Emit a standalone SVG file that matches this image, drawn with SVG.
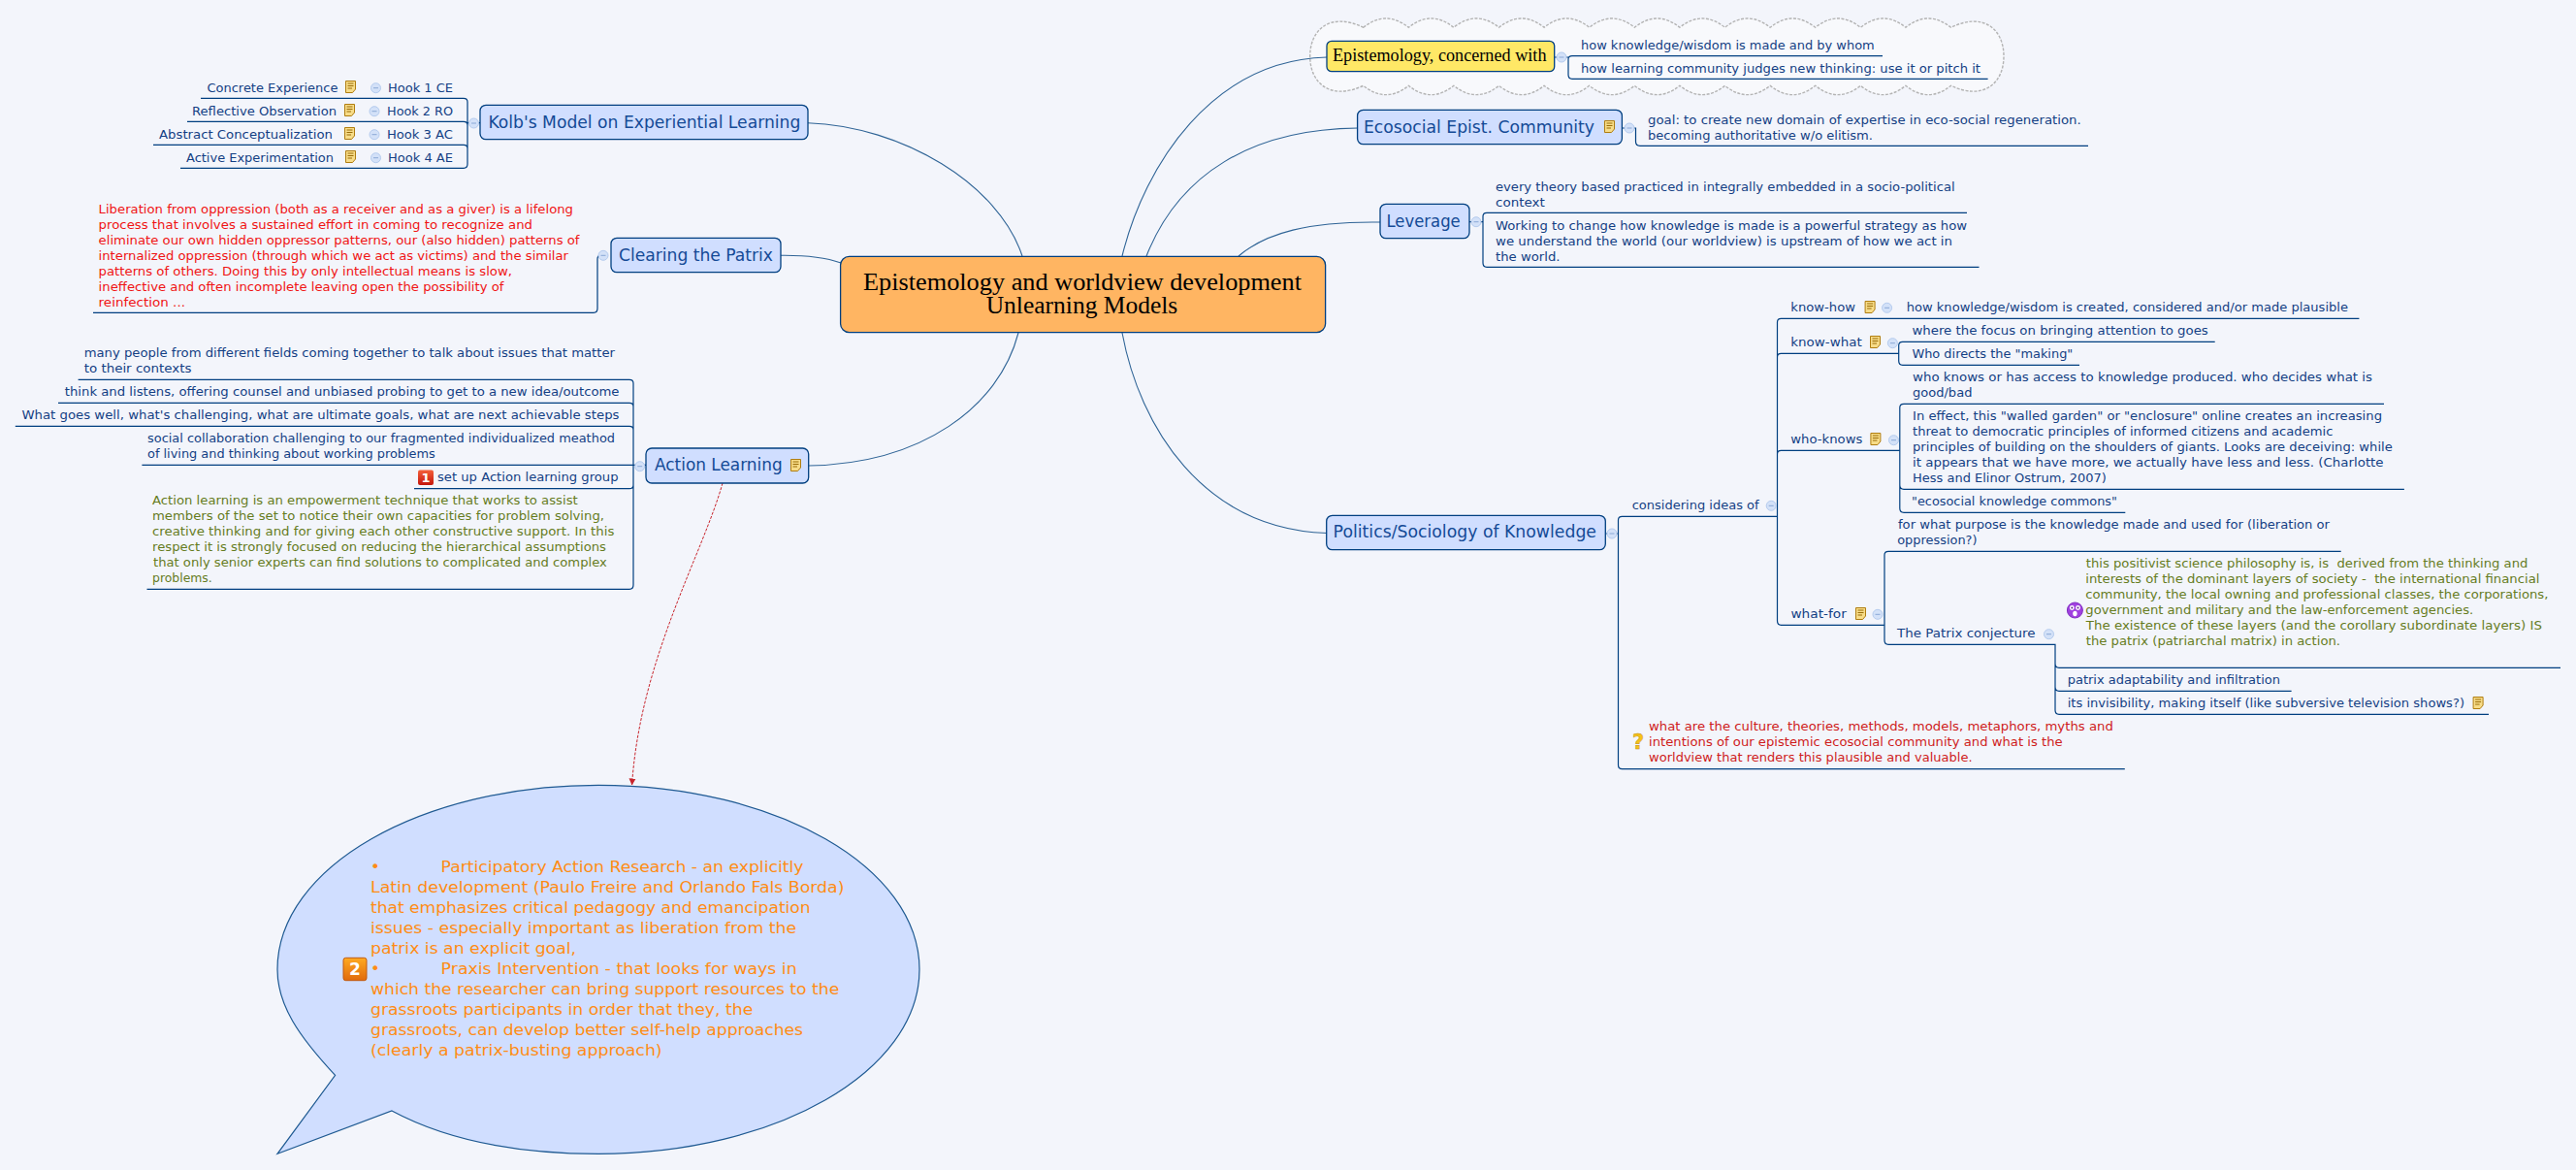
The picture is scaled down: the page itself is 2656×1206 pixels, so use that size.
<svg xmlns="http://www.w3.org/2000/svg" width="2656" height="1206" viewBox="0 0 2656 1206">
<style>
text{font-family:"DejaVu Sans","Liberation Sans",sans-serif;font-size:12.5px;fill:#143f84}
.red{fill:#f01414}
.dred{fill:#cf1c1c}
.ol{fill:#667c1e}
.org{fill:#ff8c14;font-size:16.5px}
.big{font-size:17px;fill:#144a96}
.ser{font-family:"Liberation Serif","DejaVu Serif",serif;fill:#000}
.topic{fill:#d0deff;stroke:#003f80;stroke-width:1.3}
.tree{fill:none;stroke:#003f80;stroke-width:1.2}
.curve{fill:none;stroke:#2f6496;stroke-width:1.1}
</style>
<defs>
<symbol id="note" viewBox="0 0 11 13" overflow="visible"><path d="M.5.5H10.5V9L7.5 12.5H.5Z" fill="#f7dc88" stroke="#b07d10" stroke-width="1"/><path d="M2.5 3H8.5M2.5 5.5H8.5M2.5 8H7" stroke="#9a6c08" stroke-width="1" fill="none"/></symbol>
<g id="col"><circle r="5" fill="#d3e1f8" stroke="#b4cbee" stroke-width="1"/><path d="M-2.5 0H2.5" stroke="#8aa8d6" stroke-width="1"/></g>
<linearGradient id="gr" x1="0" y1="0" x2="0" y2="1"><stop offset="0" stop-color="#f4603a"/><stop offset="1" stop-color="#c4160c"/></linearGradient>
<linearGradient id="go" x1="0" y1="0" x2="0" y2="1"><stop offset="0" stop-color="#ffaa22"/><stop offset="1" stop-color="#e06a0c"/></linearGradient>
<marker id="arr" markerWidth="7" markerHeight="8" refX="6.5" refY="4" orient="auto" markerUnits="userSpaceOnUse"><path d="M0 .5L7 4L0 7.5Z" fill="#c8242c"/></marker>
</defs>
<rect width="2656" height="1206" fill="#f3f5fb"/>
<path id="cloud" d="M1405.7,28.3Q1429,9.7 1452.3,28.3Q1475.6,9.7 1498.9,28.3Q1522.2,9.7 1545.5,28.3Q1568.8,9.7 1592.1,28.3Q1615.4,9.7 1638.7,28.3Q1662,9.7 1685.3,28.3Q1708.6,9.7 1731.9,28.3Q1755.2,9.7 1778.5,28.3Q1801.8,9.7 1825.1,28.3Q1848.4,9.7 1871.7,28.3Q1895,9.7 1918.3,28.3Q1941.6,9.7 1964.9,28.3Q1988.2,9.7 2011.5,28.3C2045,12 2066,30 2066,58C2066,86 2045,104 2011.5,88.3Q1988.2,107 1964.9,88.3Q1941.6,107 1918.3,88.3Q1895,107 1871.7,88.3Q1848.4,107 1825.1,88.3Q1801.8,107 1778.5,88.3Q1755.2,107 1731.9,88.3Q1708.6,107 1685.3,88.3Q1662,107 1638.7,88.3Q1615.4,107 1592.1,88.3Q1568.8,107 1545.5,88.3Q1522.2,107 1498.9,88.3Q1475.6,107 1452.3,88.3Q1429,107 1405.7,88.3C1372,104 1350.7,86 1350.7,58C1350.7,30 1372,12 1405.7,28.3Z" fill="#f8f9fc" stroke="#b4b4b4" stroke-width="1.4" stroke-dasharray="3 1.5"/>
<g id="connectors">
<path class="curve" d="M833,126.7C930,130 1030,190 1054,264"/>
<path class="curve" d="M805,263.3C830,263 850,265 867,271"/>
<path class="curve" d="M1050,343C1030,420 950,478 834,480"/>
<path class="curve" d="M1157,264C1180,170 1250,62 1368,59"/>
<path class="curve" d="M1182,264C1215,180 1290,133 1400,132"/>
<path class="curve" d="M1277,264C1305,240 1350,228 1423,229"/>
<path class="curve" d="M1157,343C1175,440 1240,545 1368,549.5"/>
<path d="M745,498C725,570 660,680 651.6,809" fill="none" stroke="#c8242c" stroke-width="1" stroke-dasharray="3 1.5" marker-end="url(#arr)"/>
<path class="tree" d="M207,101.3H478Q482,101.3 482,105V169.3Q482,173.3 478,173.3H186M193,125.3H478Q482,125.3 482,129M158,149.3H478Q482,149.3 482,153M482,126.7H495"/>
<path class="tree" d="M96,322.3H612Q616,322.3 616,318V267Q616,263.3 619,263.3"/>
<path class="tree" d="M80.6,391.3H649Q653,391.3 653,395V603Q653,607.3 649,607.3H151.5M60,415.3H649Q653,415.3 653,419M15.8,439.3H649Q653,439.3 653,443M146.4,479.3H666M427,503.7H649Q653,503.7 653,500"/>
<path class="tree" d="M1941,57.7H1621Q1617,57.7 1617,61V77Q1617,81.3 1621,81.3H2049.6M1603,59H1617"/>
<path class="tree" d="M1673,132H1686.5V146Q1686.5,150.3 1691,150.3H2153"/>
<path class="tree" d="M2028,219.3H1533Q1529,219.3 1529,223V271Q1529,275.3 1533,275.3H2040.5M1515,228.7H1529"/>
<path class="tree" d="M1656,550H1668.5M1832.5,532.3H1672.5Q1668.5,532.3 1668.5,536V788.5Q1668.5,792.7 1672.5,792.7H2190.8"/>
<path class="tree" d="M2432.4,328.3H1836.5Q1832.5,328.3 1832.5,332V640Q1832.5,644.3 1836.5,644.3H1942.9M1957.7,364.3H1836.5Q1832.5,364.3 1832.5,368M1958.8,464.3H1836.5Q1832.5,464.3 1832.5,468"/>
<path class="tree" d="M2283.7,352.3H1961.7Q1957.7,352.3 1957.7,356V372Q1957.7,376.3 1961.7,376.3H2144"/>
<path class="tree" d="M2458,416.3H1963Q1958.8,416.3 1958.8,420V524Q1958.8,528.3 1963,528.3H2191.3M1958.8,500Q1958.8,504.3 1963,504.3H2478.9"/>
<path class="tree" d="M2413.7,568.3H1947Q1943,568.3 1943,572V660Q1943,664.3 1947,664.3H2119V732Q2119,736.3 2123,736.3H2566M2119,684Q2119,688.3 2123,688.3H2640M2119,708Q2119,712.3 2123,712.3H2362.6"/>
<use href="#col" x="488.5" y="127"/><use href="#col" x="622" y="263.3"/><use href="#col" x="659.7" y="480.7"/>
<use href="#col" x="387.5" y="90.7"/><use href="#col" x="386" y="114.7"/><use href="#col" x="386" y="138.7"/><use href="#col" x="387.5" y="162.7"/>
<use href="#col" x="1610" y="59"/><use href="#col" x="1680" y="132"/><use href="#col" x="1522" y="228.7"/><use href="#col" x="1662" y="550"/>
<use href="#col" x="1826.2" y="521.3"/><use href="#col" x="1945.6" y="317.3"/><use href="#col" x="1951.4" y="353.7"/><use href="#col" x="1952.5" y="453.7"/><use href="#col" x="1936" y="633.3"/><use href="#col" x="2112.5" y="653.7"/>
</g>
<g id="node-center"><rect x="866.6" y="264.3" width="500" height="78.4" rx="9" fill="#ffb562" stroke="#003f80" stroke-width="1.3"/>
<text class="ser" x="890" y="299" style="font-size:25px" textLength="452" lengthAdjust="spacingAndGlyphs">Epistemology and worldview development</text>
<text class="ser" x="1016.7" y="322.7" style="font-size:25px" textLength="197.6" lengthAdjust="spacingAndGlyphs">Unlearning Models</text></g>
<g id="node-kolb"><rect class="topic" x="495" y="108.3" width="338" height="35.4" rx="6"/>
<text class="big" x="503.4" y="132" textLength="322" lengthAdjust="spacingAndGlyphs">Kolb's Model on Experiential Learning</text></g>
<g id="node-kolb-1"><text x="213.5" y="95" textLength="134.9" lengthAdjust="spacingAndGlyphs">Concrete Experience</text><use href="#note" x="356" y="83" width="11" height="13"/><text x="400" y="95" textLength="67" lengthAdjust="spacingAndGlyphs">Hook 1 CE</text></g>
<g id="node-kolb-2"><text x="198" y="119" textLength="149" lengthAdjust="spacingAndGlyphs">Reflective Observation</text><use href="#note" x="355" y="107" width="11" height="13"/><text x="399" y="119" textLength="68" lengthAdjust="spacingAndGlyphs">Hook 2 RO</text></g>
<g id="node-kolb-3"><text x="164" y="143" textLength="179" lengthAdjust="spacingAndGlyphs">Abstract Conceptualization</text><use href="#note" x="355" y="131" width="11" height="13"/><text x="399" y="143" textLength="68" lengthAdjust="spacingAndGlyphs">Hook 3 AC</text></g>
<g id="node-kolb-4"><text x="192" y="167" textLength="152" lengthAdjust="spacingAndGlyphs">Active Experimentation</text><use href="#note" x="356" y="155" width="11" height="13"/><text x="400" y="167" textLength="67" lengthAdjust="spacingAndGlyphs">Hook 4 AE</text></g>
<g id="node-clearing"><rect class="topic" x="630" y="245.3" width="175" height="35.4" rx="6"/>
<text class="big" x="638" y="269" textLength="159" lengthAdjust="spacingAndGlyphs">Clearing the Patrix</text></g>
<g id="node-clearing-1">
<text class="red" x="101.6" y="220" textLength="489.4" lengthAdjust="spacingAndGlyphs">Liberation from oppression (both as a receiver and as a giver) is a lifelong</text>
<text class="red" x="101.6" y="236" textLength="447.4" lengthAdjust="spacingAndGlyphs">process that involves a sustained effort in coming to recognize and</text>
<text class="red" x="101.6" y="252" textLength="495.9" lengthAdjust="spacingAndGlyphs">eliminate our own hidden oppressor patterns, our (also hidden) patterns of</text>
<text class="red" x="101.6" y="268" textLength="484.4" lengthAdjust="spacingAndGlyphs">internalized oppression (through which we act as victims) and the similar</text>
<text class="red" x="101.6" y="284" textLength="426.4" lengthAdjust="spacingAndGlyphs">patterns of others. Doing this by only intellectual means is slow,</text>
<text class="red" x="101.6" y="300" textLength="417.9" lengthAdjust="spacingAndGlyphs">ineffective and often incomplete leaving open the possibility of</text>
<text class="red" x="101.6" y="316" textLength="89.4" lengthAdjust="spacingAndGlyphs">reinfection ...</text></g>
<g id="node-action"><rect class="topic" x="666" y="462" width="167.7" height="36" rx="6"/>
<text class="big" x="675" y="485.3" textLength="131.7" lengthAdjust="spacingAndGlyphs">Action Learning</text><use href="#note" x="815" y="473" width="11" height="13"/></g>
<g id="node-action-1"><text x="86.7" y="368" textLength="547.3" lengthAdjust="spacingAndGlyphs">many people from different fields coming together to talk about issues that matter</text><text x="86.7" y="384" textLength="110.7" lengthAdjust="spacingAndGlyphs">to their contexts</text></g>
<g id="node-action-2"><text x="66.8" y="408" textLength="571.7" lengthAdjust="spacingAndGlyphs">think and listens, offering counsel and unbiased probing to get to a new idea/outcome</text></g>
<g id="node-action-3"><text x="22.4" y="432" textLength="616.1" lengthAdjust="spacingAndGlyphs">What goes well, what's challenging, what are ultimate goals, what are next achievable steps</text></g>
<g id="node-action-4"><text x="152" y="456" textLength="482" lengthAdjust="spacingAndGlyphs">social collaboration challenging to our fragmented individualized meathod</text><text x="152" y="472" textLength="296.8" lengthAdjust="spacingAndGlyphs">of living and thinking about working problems</text></g>
<g id="node-action-5"><rect x="431" y="484.5" width="16" height="15.5" rx="2" fill="url(#gr)"/><text x="439" y="497" text-anchor="middle" style="fill:#fff;font-weight:bold;font-size:13px">1</text><text x="451" y="496" textLength="186.5" lengthAdjust="spacingAndGlyphs">set up Action learning group</text></g>
<g id="node-action-6">
<text class="ol" x="157" y="520" textLength="438.7" lengthAdjust="spacingAndGlyphs">Action learning is an empowerment technique that works to assist</text>
<text class="ol" x="157" y="536" textLength="466" lengthAdjust="spacingAndGlyphs">members of the set to notice their own capacities for problem solving,</text>
<text class="ol" x="157" y="552" textLength="476.4" lengthAdjust="spacingAndGlyphs">creative thinking and for giving each other constructive support. In this</text>
<text class="ol" x="157" y="568" textLength="468" lengthAdjust="spacingAndGlyphs">respect it is strongly focused on reducing the hierarchical assumptions</text>
<text class="ol" x="158" y="584" textLength="467.8" lengthAdjust="spacingAndGlyphs">that only senior experts can find solutions to complicated and complex</text>
<text class="ol" x="157" y="600" textLength="61.8" lengthAdjust="spacingAndGlyphs">problems.</text></g>
<g id="node-callout"><path d="M345.6,1108.3C308,1068 286,1036 286,999.3C286,894 434,809.3 617,809.3C800,809.3 948,894 948,999.3C948,1104.5 800,1189.3 617,1189.3C530,1189.3 460,1175 404,1145L286,1189.3Z" fill="#d0deff" stroke="#1f5a92" stroke-width="1.2"/>
<rect x="354" y="987.3" width="24" height="23.4" rx="2.5" fill="url(#go)" stroke="#c05a10"/><text x="366" y="1005" text-anchor="middle" style="fill:#fff;font-weight:bold;font-size:17px">2</text>
<text class="org" x="382" y="899.3">•</text><text class="org" x="454.6" y="899.3" textLength="373.8" lengthAdjust="spacingAndGlyphs">Participatory Action Research - an explicitly</text>
<text class="org" x="382" y="920.3" textLength="488.4" lengthAdjust="spacingAndGlyphs">Latin development (Paulo Freire and Orlando Fals Borda)</text>
<text class="org" x="382" y="941.3" textLength="453.6" lengthAdjust="spacingAndGlyphs">that emphasizes critical pedagogy and emancipation</text>
<text class="org" x="382" y="962.3" textLength="439" lengthAdjust="spacingAndGlyphs">issues - especially important as liberation from the</text>
<text class="org" x="382" y="983.3" textLength="212" lengthAdjust="spacingAndGlyphs">patrix is an explicit goal,</text>
<text class="org" x="382" y="1004.3">•</text><text class="org" x="454.6" y="1004.3" textLength="367.1" lengthAdjust="spacingAndGlyphs">Praxis Intervention - that looks for ways in</text>
<text class="org" x="382" y="1025.3" textLength="483.2" lengthAdjust="spacingAndGlyphs">which the researcher can bring support resources to the</text>
<text class="org" x="382" y="1046.3" textLength="394.3" lengthAdjust="spacingAndGlyphs">grassroots participants in order that they, the</text>
<text class="org" x="382" y="1067.3" textLength="446" lengthAdjust="spacingAndGlyphs">grassroots, can develop better self-help approaches</text>
<text class="org" x="382" y="1088.3" textLength="300.6" lengthAdjust="spacingAndGlyphs">(clearly a patrix-busting approach)</text></g>
<g id="node-epistemology"><rect x="1368" y="42.3" width="234.7" height="31.4" rx="5" fill="#ffe866" stroke="#003f80" stroke-width="1.3"/>
<text class="ser" x="1374" y="63" style="font-size:18px" textLength="220.5" lengthAdjust="spacingAndGlyphs">Epistemology, concerned with</text></g>
<g id="node-epi-1"><text x="1630" y="50.7" textLength="302.7" lengthAdjust="spacingAndGlyphs">how knowledge/wisdom is made and by whom</text></g>
<g id="node-epi-2"><text x="1630" y="74.7" textLength="412" lengthAdjust="spacingAndGlyphs">how learning community judges new thinking: use it or pitch it</text></g>
<g id="node-ecosocial"><rect class="topic" x="1399.6" y="113.3" width="272.8" height="35.4" rx="6"/>
<text class="big" x="1406" y="136.7" textLength="238" lengthAdjust="spacingAndGlyphs">Ecosocial Epist. Community</text><use href="#note" x="1654" y="124" width="11" height="13"/></g>
<g id="node-eco-1"><text x="1699" y="127.7" textLength="446.7" lengthAdjust="spacingAndGlyphs">goal: to create new domain of expertise in eco-social regeneration.</text><text x="1699" y="143.7" textLength="232" lengthAdjust="spacingAndGlyphs">becoming authoritative w/o elitism.</text></g>
<g id="node-leverage"><rect class="topic" x="1423" y="210.3" width="92" height="35.4" rx="6"/>
<text class="big" x="1429.5" y="233.7" textLength="76.2" lengthAdjust="spacingAndGlyphs">Leverage</text></g>
<g id="node-lev-1"><text x="1542" y="196.7" textLength="473.6" lengthAdjust="spacingAndGlyphs">every theory based practiced in integrally embedded in a socio-political</text><text x="1542" y="212.7" textLength="50.8" lengthAdjust="spacingAndGlyphs">context</text></g>
<g id="node-lev-2"><text x="1542" y="236.7" textLength="486" lengthAdjust="spacingAndGlyphs">Working to change how knowledge is made is a powerful strategy as how</text><text x="1542" y="252.7" textLength="471" lengthAdjust="spacingAndGlyphs">we understand the world (our worldview) is upstream of how we act in</text><text x="1542" y="268.7" textLength="66.5" lengthAdjust="spacingAndGlyphs">the world.</text></g>
<g id="node-politics"><rect class="topic" x="1367.7" y="531.3" width="287.6" height="35.4" rx="6"/>
<text class="big" x="1374.6" y="554" textLength="271.4" lengthAdjust="spacingAndGlyphs">Politics/Sociology of Knowledge</text></g>
<g id="node-considering"><text x="1682.7" y="525" textLength="130.9" lengthAdjust="spacingAndGlyphs">considering ideas of</text></g>
<g id="node-knowhow"><text x="1846.3" y="321" textLength="66.7" lengthAdjust="spacingAndGlyphs">know-how</text><use href="#note" x="1922.6" y="310" width="11" height="13"/><text x="1965.7" y="321" textLength="455.3" lengthAdjust="spacingAndGlyphs">how knowledge/wisdom is created, considered and/or made plausible</text></g>
<g id="node-knowwhat"><text x="1846.3" y="357" textLength="73.5" lengthAdjust="spacingAndGlyphs">know-what</text><use href="#note" x="1928" y="346" width="11" height="13"/></g>
<g id="node-kw-1"><text x="1971.4" y="345" textLength="305.4" lengthAdjust="spacingAndGlyphs">where the focus on bringing attention to goes</text></g>
<g id="node-kw-2"><text x="1971.4" y="369" textLength="165.9" lengthAdjust="spacingAndGlyphs">Who directs the "making"</text></g>
<g id="node-whoknows"><text x="1846.3" y="457" textLength="74.1" lengthAdjust="spacingAndGlyphs">who-knows</text><use href="#note" x="1928.4" y="446" width="11" height="13"/></g>
<g id="node-wk-1"><text x="1972" y="393" textLength="474" lengthAdjust="spacingAndGlyphs">who knows or has access to knowledge produced. who decides what is</text><text x="1972" y="409" textLength="61.4" lengthAdjust="spacingAndGlyphs">good/bad</text></g>
<g id="node-wk-2"><text x="1972" y="433" textLength="484" lengthAdjust="spacingAndGlyphs">In effect, this "walled garden" or "enclosure" online creates an increasing</text><text x="1972" y="449" textLength="433.4" lengthAdjust="spacingAndGlyphs">threat to democratic principles of informed citizens and academic</text><text x="1972" y="465" textLength="494.8" lengthAdjust="spacingAndGlyphs">principles of building on the shoulders of giants. Looks are deceiving: while</text><text x="1972" y="481" textLength="485.6" lengthAdjust="spacingAndGlyphs">it appears that we have more, we actually have less and less. (Charlotte</text><text x="1972" y="497" textLength="199.8" lengthAdjust="spacingAndGlyphs">Hess and Elinor Ostrum, 2007)</text></g>
<g id="node-wk-3"><text x="1971" y="521" textLength="212" lengthAdjust="spacingAndGlyphs">"ecosocial knowledge commons"</text></g>
<g id="node-whatfor"><text x="1846.4" y="637.3" textLength="57.4" lengthAdjust="spacingAndGlyphs">what-for</text><use href="#note" x="1913" y="626" width="11" height="13"/></g>
<g id="node-wf-1"><text x="1957" y="545" textLength="445" lengthAdjust="spacingAndGlyphs">for what purpose is the knowledge made and used for (liberation or</text><text x="1956.2" y="561" textLength="82.3" lengthAdjust="spacingAndGlyphs">oppression?)</text></g>
<g id="node-patrix"><text x="1956" y="657" textLength="142.5" lengthAdjust="spacingAndGlyphs">The Patrix conjecture</text></g>
<g id="node-patrix-1"><circle cx="2139.4" cy="629" r="8" fill="#a040e0" stroke="#8030c0"/><circle cx="2136.3" cy="626.5" r="2.4" fill="#fff"/><circle cx="2142.5" cy="626.5" r="2.4" fill="#fff"/><circle cx="2136.3" cy="626.5" r=".9" fill="#501080"/><circle cx="2142.5" cy="626.5" r=".9" fill="#501080"/><ellipse cx="2139.4" cy="632.5" rx="2.2" ry="2.8" fill="#fff"/>
<text class="ol" x="2150.8" y="585" textLength="455.6" lengthAdjust="spacingAndGlyphs" xml:space="preserve">this positivist science philosophy is, is  derived from the thinking and</text>
<text class="ol" x="2150.3" y="601" textLength="468.2" lengthAdjust="spacingAndGlyphs" xml:space="preserve">interests of the dominant layers of society -  the international financial</text>
<text class="ol" x="2150.3" y="617" textLength="477.1" lengthAdjust="spacingAndGlyphs">community, the local owning and professional classes, the corporations,</text>
<text class="ol" x="2150.3" y="633" textLength="399.9" lengthAdjust="spacingAndGlyphs">government and military and the law-enforcement agencies.</text>
<text class="ol" x="2150.8" y="649" textLength="470.2" lengthAdjust="spacingAndGlyphs">The existence of these layers (and the corollary subordinate layers) IS</text>
<text class="ol" x="2150.8" y="665" textLength="262.2" lengthAdjust="spacingAndGlyphs">the patrix (patriarchal matrix) in action.</text></g>
<g id="node-patrix-2"><text x="2131.7" y="705" textLength="219.3" lengthAdjust="spacingAndGlyphs">patrix adaptability and infiltration</text></g>
<g id="node-patrix-3"><text x="2131.7" y="729" textLength="409.3" lengthAdjust="spacingAndGlyphs">its invisibility, making itself (like subversive television shows?)</text><use href="#note" x="2549.6" y="718" width="11" height="13"/></g>
<g id="node-question"><text x="1683" y="772" style="fill:#f5c21a;font-size:21px;font-weight:bold;stroke:#c08a10;stroke-width:.4">?</text>
<text class="dred" x="1700" y="753" textLength="478.8" lengthAdjust="spacingAndGlyphs">what are the culture, theories, methods, models, metaphors, myths and</text>
<text class="dred" x="1700" y="769" textLength="426.6" lengthAdjust="spacingAndGlyphs">intentions of our epistemic ecosocial community and what is the</text>
<text class="dred" x="1700" y="785" textLength="333.6" lengthAdjust="spacingAndGlyphs">worldview that renders this plausible and valuable.</text></g>
</svg>
